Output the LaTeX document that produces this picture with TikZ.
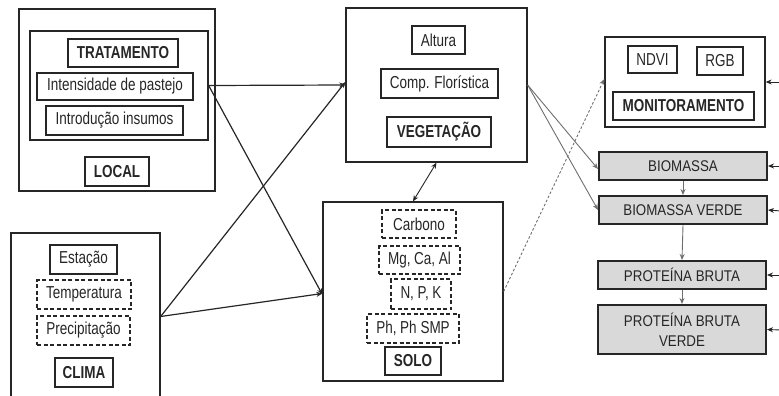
\documentclass[tikz,border=0pt]{standalone}
\usepackage{fontspec}
\setmainfont[FakeStretch=0.78]{Liberation Sans}
\newfontfamily\gfont[FakeStretch=0.86]{Liberation Sans}
\usetikzlibrary{arrows.meta}
\definecolor{boxgray}{HTML}{D9D9D9}
\definecolor{linegray}{HTML}{6E6E6E}
\begin{document}
\begin{tikzpicture}[x=1pt,y=-1pt,
  every node/.style={font=\fontsize{17.3}{21}\selectfont, inner sep=0pt, text=black!85},
  frame/.style={draw=black!85, line width=1.3pt, rectangle},
  lbl/.style={draw=black!85, line width=1.2pt, rectangle},
  bl/.style={lbl, font=\fontsize{17.3}{21}\selectfont\bfseries},
  dlbl/.style={draw=black!85, line width=1.2pt, rectangle, dash pattern=on 4pt off 2.5pt},
  gbox/.style={draw=black!85, line width=2pt, fill=boxgray, rectangle, align=center, font=\gfont\fontsize{15.5}{20}\selectfont},
  conn/.style={draw=black!85, line width=1.2pt, -{Stealth[length=6pt,width=5pt]}},
  gconn/.style={draw=linegray, line width=0.9pt, -{Stealth[length=6pt,width=5pt]}},
  dconn/.style={draw=linegray, line width=0.9pt, dash pattern=on 2.5pt off 2pt, -{Stealth[length=6pt,width=5pt]}},
  dbl/.style={draw=black!85, line width=0.9pt, {Stealth[length=6pt,width=5pt]}-{Stealth[length=6pt,width=5pt]}}
]
\useasboundingbox (0,0) rectangle (779,396);

% LOCAL
\node[frame, minimum width=196pt, minimum height=182pt] (local) at (117,100) {};
\node[frame, minimum width=178pt, minimum height=109pt] (trat) at (119,85.5) {};
\node[bl, minimum width=110pt, minimum height=28pt] (tratl) at (123,53) {TRATAMENTO};
\node[lbl, minimum width=156pt, minimum height=27pt] (intens) at (115,86.5) {Intensidade de pastejo};
\node[lbl, minimum width=137pt, minimum height=29pt] (intro) at (114.5,120.5) {Introdução insumos};
\node[bl, minimum width=64pt, minimum height=29pt] (locall) at (117,171.5) {LOCAL};

% CLIMA
\node[frame, minimum width=149pt, minimum height=167pt] (clima) at (85.5,316.5) {};
\node[lbl, minimum width=67pt, minimum height=29pt] (estacao) at (83.5,259.5) {Estação};
\node[dlbl, minimum width=94pt, minimum height=29pt] (temp) at (84,294.5) {Temperatura};
\node[dlbl, minimum width=93pt, minimum height=29pt] (precip) at (83.5,330.5) {Precipitação};
\node[bl, minimum width=58pt, minimum height=29pt] (climal) at (84,372.5) {CLIMA};

% VEGETACAO
\node[frame, minimum width=181pt, minimum height=154pt] (veg) at (436.5,85) {};
\node[lbl, minimum width=53pt, minimum height=28pt] (altura) at (438.5,40) {Altura};
\node[lbl, minimum width=117pt, minimum height=29pt] (comp) at (439.5,83.5) {Comp. Florística};
\node[bl, minimum width=104pt, minimum height=30pt] (vegl) at (439,132) {VEGETAÇÃO};

% SOLO
\node[frame, minimum width=180pt, minimum height=179pt] (solo) at (413,291.5) {};
\node[dlbl, minimum width=74pt, minimum height=28pt] (carb) at (419,224) {Carbono};
\node[dlbl, minimum width=81pt, minimum height=28pt] (mg) at (419.5,260) {Mg, Ca, Al};
\node[dlbl, minimum width=60pt, minimum height=30pt] (npk) at (421,294) {N, P, K};
\node[dlbl, minimum width=92pt, minimum height=29pt] (ph) at (413,328.5) {Ph, Ph SMP};
\node[bl, minimum width=56pt, minimum height=28pt] (solol) at (413,361) {SOLO};

% MONITORAMENTO
\node[frame, minimum width=160pt, minimum height=90pt] (mon) at (685,82) {};
\node[lbl, minimum width=49pt, minimum height=27pt] (ndvi) at (652.5,59.5) {NDVI};
\node[lbl, minimum width=46pt, minimum height=28pt] (rgb) at (720,61) {RGB};
\node[bl, minimum width=141pt, minimum height=28pt] (monl) at (683.5,106) {MONITORAMENTO};

% gray boxes
\node[gbox, minimum width=168pt, minimum height=28pt] (bio) at (683,166) {BIOMASSA};
\node[gbox, minimum width=168pt, minimum height=28pt] (bv) at (683,210) {BIOMASSA VERDE};
\node[gbox, minimum width=168pt, minimum height=28pt] (pb) at (682,275) {PROTEÍNA BRUTA};
\node[gbox, minimum width=168pt, minimum height=49pt] (pbv) at (682,329.5) {PROTEÍNA BRUTA\\VERDE};

% connectors
\draw[conn] (trat.east) -- (veg.west);
\draw[conn] (trat.east) -- ([yshift=-3pt]solo.west);
\draw[conn] (clima.east) -- ([yshift=3pt]veg.west);
\draw[conn] (clima.east) -- ([yshift=-2pt]solo.west);
\draw[dbl] (veg.south) -- (solo.north);
\draw[dconn] (solo.east) -- ([yshift=3pt]mon.west);
\draw[gconn] (veg.east) -- ([yshift=-3pt]bio.west);
\draw[gconn] (veg.east) -- (bv.west);
\draw[gconn] (bio.south) -- (bv.north);
\draw[gconn] (bv.south) -- (pb.north);
\draw[gconn] (pb.south) -- (pbv.north);

% incoming from right edge
\coordinate (r1) at (781,82);
\coordinate (r2) at (781,166);
\coordinate (r3) at (781,211);
\coordinate (r4) at (781,275);
\coordinate (r5) at (781,330);
\draw[conn, line width=0.9pt] (r1) -- (mon.east);
\draw[conn, line width=0.9pt] (r2) -- (bio.east);
\draw[conn, line width=0.9pt] (r3) -- (bv.east);
\draw[conn, line width=0.9pt] (r4) -- (pb.east);
\draw[conn, line width=0.9pt] (r5) -- (pbv.east);
\end{tikzpicture}
\end{document}
